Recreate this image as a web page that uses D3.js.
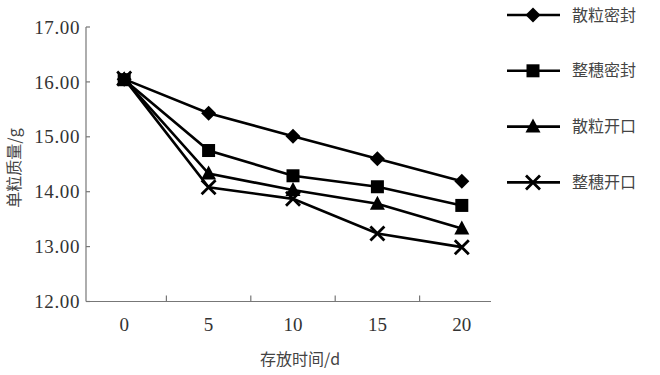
<!DOCTYPE html>
<html>
<head>
<meta charset="utf-8">
<script src="https://cdn.jsdelivr.net/npm/d3@7"></script>
<style>
  body { margin: 0; background: #fff; }
  svg { display: block; }
</style>
</head>
<body>
<div class="chart"></div>
<script>
////////// DATA //////////

const days = ["0", "5", "10", "15", "20"];
const seriesNames = ["散粒密封", "整穗密封", "散粒开口", "整穗开口"];
const sanliMifeng = [16.05, 15.43, 15.01, 14.60, 14.19];
const zhengsuiMifeng = [16.04, 14.75, 14.29, 14.09, 13.75];
const sanliKaikou = [16.05, 14.33, 14.03, 13.78, 13.33];
const zhengsuiKaikou = [16.06, 14.08, 13.87, 13.24, 12.99];
const yTicks = [12, 13, 14, 15, 16, 17];

const markers = ["diamond", "square", "triangle", "cross"];
const seriesValues = [sanliMifeng, zhengsuiMifeng, sanliKaikou, zhengsuiKaikou];

////////// SETUP //////////

const width = 660, height = 375;
const serif = "'Liberation Serif', 'DejaVu Serif', serif";
const cjk = "'Noto Sans CJK SC', sans-serif";

let svg = d3.select(".chart")
    .append("svg")
    .attr("width", width)
    .attr("height", height);

let x = d3.scaleBand()
    .domain(days)
    .range([82, 504]);

let y = d3.scaleLinear()
    .domain([12, 17])
    .range([301.5, 27]);

let fmt = d3.format(".2f");

////////// AXES //////////

let axisColor = "#777";

// y axis
svg.append("line")
    .attr("x1", 86).attr("x2", 86)
    .attr("y1", y(17)).attr("y2", y(12))
    .attr("stroke", axisColor).attr("stroke-width", 1.2);

svg.append("g")
  .selectAll("line")
    .data(yTicks)
    .enter()
    .append("line")
    .attr("x1", 86).attr("x2", 90)
    .attr("y1", d => y(d)).attr("y2", d => y(d))
    .attr("stroke", axisColor).attr("stroke-width", 1.2);

svg.append("g")
  .selectAll("text")
    .data(yTicks)
    .enter()
    .append("text")
    .attr("x", 80)
    .attr("y", d => y(d))
    .attr("dy", "0.35em")
    .attr("text-anchor", "end")
    .attr("font-family", serif)
    .attr("font-size", 19)
    .style("letter-spacing", "0.6px")
    .style("fill", "#333")
    .text(d => fmt(d));

// x axis
svg.append("line")
    .attr("x1", 86).attr("x2", 491)
    .attr("y1", y(12)).attr("y2", y(12))
    .attr("stroke", axisColor).attr("stroke-width", 1.2);

svg.append("g")
  .selectAll("line")
    .data(days.slice(1))
    .enter()
    .append("line")
    .attr("x1", d => x(d)).attr("x2", d => x(d))
    .attr("y1", y(12)).attr("y2", y(12) - 6)
    .attr("stroke", axisColor).attr("stroke-width", 1.2);

svg.append("g")
  .selectAll("text")
    .data(days)
    .enter()
    .append("text")
    .attr("x", d => x(d) + x.bandwidth() / 2)
    .attr("y", 324)
    .attr("dy", "0.35em")
    .attr("text-anchor", "middle")
    .attr("font-family", serif)
    .attr("font-size", 19)
    .style("fill", "#333")
    .text(d => d);

// axis titles
svg.append("text")
    .attr("x", 300)
    .attr("y", 359)
    .attr("dy", "0.35em")
    .attr("text-anchor", "middle")
    .style("font-family", cjk)
    .style("font-size", "16px")
    .style("fill", "#444")
    .text("存放时间/d");

svg.append("text")
    .attr("transform", "translate(14,168) rotate(-90)")
    .attr("dy", "0.35em")
    .attr("text-anchor", "middle")
    .style("font-family", cjk)
    .style("font-size", "16px")
    .style("fill", "#444")
    .text("单粒质量/g");

////////// MARKERS //////////

function drawMarker(g, type) {
  if (type == "diamond") {
    g.append("path")
        .attr("d", "M0,-7.5L7.5,0L0,7.5L-7.5,0Z")
        .attr("fill", "#000");
  } else if (type == "square") {
    g.append("rect")
        .attr("x", -6.5).attr("y", -6.5)
        .attr("width", 13).attr("height", 13)
        .attr("fill", "#000");
  } else if (type == "triangle") {
    g.append("path")
        .attr("d", "M0,-8L7.5,6L-7.5,6Z")
        .attr("fill", "#000");
  } else {
    g.append("path")
        .attr("d", "M-7,-7L7,7M-7,7L7,-7")
        .attr("stroke", "#000")
        .attr("stroke-width", 2.8);
  }
}

////////// LINES //////////

let line = d3.line()
    .x((d, i) => x(days[i]) + x.bandwidth() / 2)
    .y(d => y(d));

let series = svg.append("g")
  .selectAll("g")
    .data(seriesValues)
    .enter()
    .append("g");

series.append("path")
    .attr("d", d => line(d))
    .attr("fill", "none")
    .attr("stroke", "#000")
    .attr("stroke-width", 2.6);

series.each(function(vals, si) {
  let g = d3.select(this);
  vals.forEach((v, i) => {
    let m = g.append("g")
        .attr("transform", "translate(" + (x(days[i]) + x.bandwidth() / 2) + "," + y(v) + ")");
    drawMarker(m, markers[si]);
  });
});

////////// LEGEND //////////

let legend = svg.append("g")
  .selectAll("g")
    .data(seriesNames)
    .enter()
    .append("g")
    .attr("transform", (d, i) => "translate(0," + (15 + i * 55.8) + ")");

legend.append("line")
    .attr("x1", 507).attr("x2", 560)
    .attr("stroke", "#000")
    .attr("stroke-width", 2.6);

legend.each(function(d, i) {
  let m = d3.select(this).append("g")
      .attr("transform", "translate(533,0)");
  drawMarker(m, markers[i]);
});

legend.append("text")
    .attr("x", 572)
    .attr("dy", "0.35em")
    .style("font-family", cjk)
    .style("font-size", "16px")
    .style("fill", "#444")
    .text(d => d);
</script>
</body>
</html>
